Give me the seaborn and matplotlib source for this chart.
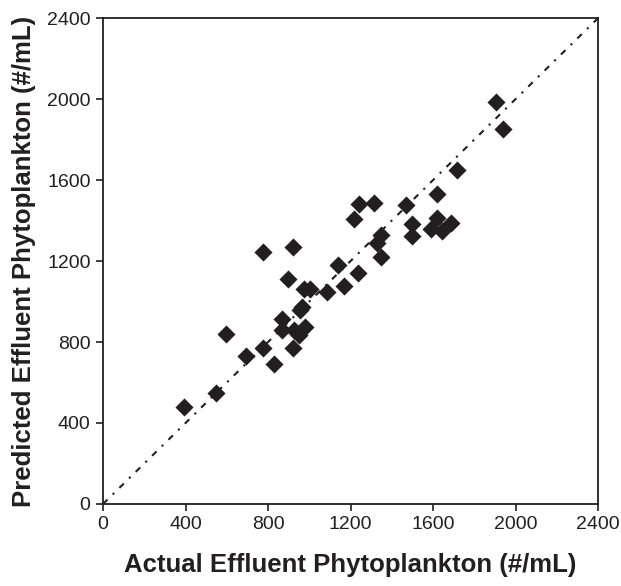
import pandas as pd
import matplotlib
matplotlib.use("Agg")
import matplotlib.pyplot as plt
import seaborn as sns

# --- DATA ---
actual = [394, 549, 594, 695, 776, 774, 828, 870, 870, 897,
          922, 922, 925, 949, 954, 967, 973, 977, 1002, 1087,
          1139, 1168, 1218, 1234, 1241, 1313, 1327, 1346, 1346, 1469,
          1497, 1497, 1589, 1617, 1617, 1642, 1688, 1714, 1905, 1939]
predicted = [480, 550, 838, 731, 769, 1246, 690, 912, 859, 1110,
             1271, 769, 859, 835, 958, 971, 1060, 872, 1060, 1048,
             1180, 1078, 1409, 1139, 1480, 1488, 1287, 1330, 1218, 1478,
             1381, 1325, 1360, 1531, 1411, 1347, 1388, 1649, 1987, 1850]
line_vals = [0, 2400]
ticks = [0, 400, 800, 1200, 1600, 2000, 2400]

TEXT_COLOR = "#231f20"

def main():
    sns.set_style("ticks")
    plt.rcParams['font.family'] = ['Liberation Sans', 'DejaVu Sans']

    df = pd.DataFrame({"actual": actual, "predicted": predicted})

    fig = plt.figure(figsize=(6.21, 5.86), dpi=100)
    ax = fig.add_axes([0.1659, 0.140, 0.7971, 0.829])

    # 1:1 line
    ax.plot(line_vals, line_vals, color=TEXT_COLOR, linewidth=1.5,
            linestyle=(0, (3, 3.5, 1, 3.5)), zorder=1)

    sns.scatterplot(data=df, x="actual", y="predicted", ax=ax, marker="D",
                    s=85, color=TEXT_COLOR, edgecolor=TEXT_COLOR, linewidth=0,
                    zorder=3)

    ax.set_xlim(0, 2400)
    ax.set_ylim(0, 2400)
    ax.set_xticks(ticks)
    ax.set_yticks(ticks)
    ax.tick_params(axis="both", direction="out", length=5, width=1.2,
                   labelsize=14, colors=TEXT_COLOR, pad=4)

    for sp in ax.spines.values():
        sp.set_visible(True)
        sp.set_color(TEXT_COLOR)
        sp.set_linewidth(1.3)

    ax.set_xlabel("Actual Effluent Phytoplankton (#/mL)", fontsize=18.5,
                  fontweight="bold", color=TEXT_COLOR, labelpad=14)
    ax.set_ylabel("Predicted Effluent Phytoplankton (#/mL)", fontsize=18.5,
                  fontweight="bold", color=TEXT_COLOR, labelpad=8)

    fig.savefig("out.png", dpi=100, facecolor="white")

if __name__ == "__main__":
    main()
